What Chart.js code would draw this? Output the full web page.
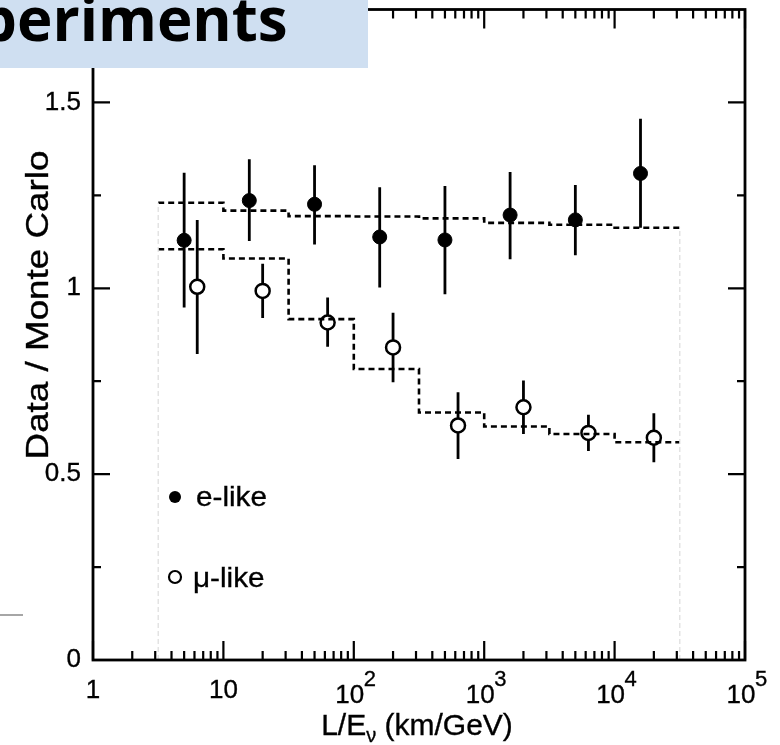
<!DOCTYPE html>
<html>
<head>
<meta charset="utf-8">
<script src="https://cdn.jsdelivr.net/npm/chart.js@4/dist/chart.umd.min.js"></script>
<style>
  html, body { margin: 0; padding: 0; background: #fff; }
  #plot { display: block; }
</style>
</head>
<body>
<canvas id="plot" width="780" height="745"></canvas>
<script>
// L/E bin edges (half-decade bins) for the Monte Carlo expectation
const binEdges = [3.162, 10, 31.62, 100, 316.2, 1000, 3162, 10000, 31623];
const eMC = [1.230, 1.209, 1.194, 1.193, 1.188, 1.176, 1.171, 1.163];
const muMC = [1.105, 1.080, 0.917, 0.783, 0.666, 0.628, 0.608, 0.586];

// e-like data points with error bars
const eX = [5.0, 15.8, 50, 158, 500, 1580, 5000, 15800];
const eY = [1.129, 1.236, 1.226, 1.138, 1.130, 1.197, 1.184, 1.309];
const eHi = [1.311, 1.347, 1.331, 1.272, 1.275, 1.313, 1.278, 1.456];
const eLo = [0.948, 1.127, 1.118, 1.002, 0.984, 1.078, 1.089, 1.163];

// mu-like data points with error bars
const muX = [6.3, 20, 63, 200, 630, 2000, 6300, 20000];
const muY = [1.004, 0.993, 0.908, 0.841, 0.631, 0.680, 0.611, 0.598];
const muHi = [1.184, 1.066, 0.975, 0.934, 0.720, 0.752, 0.660, 0.664];
const muLo = [0.823, 0.920, 0.843, 0.747, 0.541, 0.608, 0.562, 0.532];

// axis ticks
const xMajorTicks = [1, 10, 100, 1000, 10000, 100000];
const xTickBase = ["1", "10", "10", "10", "10", "10"];
const xTickExp = ["", "", "2", "3", "4", "5"];
const yMajorTicks = [0, 0.5, 1, 1.5];
const yTickLabels = ["0", "0.5", "1", "1.5"];
const yMinorTicks = [0.25, 0.75, 1.25];

const FONT = '"Liberation Sans", Arial, Helvetica, sans-serif';

function stepPoints(edges, levels) {
  const pts = [];
  levels.forEach((v, i) => {
    pts.push({ x: edges[i], y: v });
    pts.push({ x: edges[i + 1], y: v });
  });
  return pts;
}

function zip(xs, ys) {
  return xs.map((x, i) => ({ x: x, y: ys[i] }));
}

// text with a horizontal stretch and a light outline to thicken the strokes
function stretchText(ctx, str, x, y, sx, align) {
  ctx.save();
  ctx.translate(x, y);
  ctx.scale(sx, 1);
  ctx.textAlign = align;
  ctx.lineWidth = 0.35;
  ctx.strokeStyle = ctx.fillStyle;
  ctx.fillText(str, 0, 0);
  ctx.strokeText(str, 0, 0);
  ctx.restore();
}

// frame with inward ticks on all four sides, plus tick labels
const framePlugin = {
  id: "frame",
  afterDatasetsDraw(chart) {
    const ctx = chart.ctx;
    const xs = chart.scales.x;
    const ys = chart.scales.y;
    const a = chart.chartArea;
    ctx.save();
    ctx.strokeStyle = "#000";
    ctx.lineWidth = 2.8;
    ctx.strokeRect(a.left, a.top, a.right - a.left, a.bottom - a.top);

    ctx.lineWidth = 2.2;
    ctx.beginPath();
    // x ticks, major decades and minor 2..9
    for (let d = 0; d < xMajorTicks.length; d++) {
      const dec = xMajorTicks[d];
      const px = xs.getPixelForValue(dec);
      ctx.moveTo(px, a.bottom); ctx.lineTo(px, a.bottom - 19);
      ctx.moveTo(px, a.top); ctx.lineTo(px, a.top + 19);
      if (d < xMajorTicks.length - 1) {
        for (let m = 2; m <= 9; m++) {
          const pm = xs.getPixelForValue(dec * m);
          ctx.moveTo(pm, a.bottom); ctx.lineTo(pm, a.bottom - 9);
          ctx.moveTo(pm, a.top); ctx.lineTo(pm, a.top + 9);
        }
      }
    }
    yMajorTicks.forEach(v => {
      const py = ys.getPixelForValue(v);
      ctx.moveTo(a.left, py); ctx.lineTo(a.left + 17, py);
      ctx.moveTo(a.right, py); ctx.lineTo(a.right - 17, py);
    });
    yMinorTicks.forEach(v => {
      const py = ys.getPixelForValue(v);
      ctx.moveTo(a.left, py); ctx.lineTo(a.left + 8, py);
      ctx.moveTo(a.right, py); ctx.lineTo(a.right - 8, py);
    });
    ctx.stroke();

    // y tick labels
    ctx.fillStyle = "#000";
    ctx.font = "26px " + FONT;
    ctx.textBaseline = "middle";
    yMajorTicks.forEach((v, i) => {
      stretchText(ctx, yTickLabels[i], a.left - 12, ys.getPixelForValue(v), 1.0, "right");
    });

    // x tick labels, powers of ten with superscript exponent
    ctx.textBaseline = "alphabetic";
    xMajorTicks.forEach((v, i) => {
      const px = xs.getPixelForValue(v);
      ctx.font = "26px " + FONT;
      if (!xTickExp[i]) {
        stretchText(ctx, xTickBase[i], px, a.bottom + 38, 1.0, "center");
      } else {
        stretchText(ctx, xTickBase[i], px - 4, a.bottom + 43, 1.0, "center");
        ctx.font = "22px " + FONT;
        stretchText(ctx, xTickExp[i], px + 10, a.bottom + 26, 1.0, "left");
      }
    });

    // axis titles
    ctx.font = "30px " + FONT;
    const mainW = ctx.measureText("L/E").width;
    ctx.font = "20px " + FONT;
    const subW = ctx.measureText("\u03bd").width;
    ctx.font = "30px " + FONT;
    const tailW = ctx.measureText(" (km/GeV)").width;
    const tx = 417 - (mainW + subW + tailW) / 2;
    const ty = 735;
    stretchText(ctx, "L/E", tx, ty, 1.0, "left");
    ctx.font = "20px " + FONT;
    stretchText(ctx, "\u03bd", tx + mainW, ty + 7, 1.0, "left");
    ctx.font = "30px " + FONT;
    stretchText(ctx, " (km/GeV)", tx + mainW + subW, ty, 1.0, "left");

    ctx.save();
    ctx.translate(39, 305);
    ctx.rotate(-Math.PI / 2);
    ctx.font = "32px " + FONT;
    ctx.textBaseline = "middle";
    stretchText(ctx, "Data / Monte Carlo", 0, 0, 1.15, "center");
    ctx.restore();

    // legend inside the frame
    const lx = 175;
    ctx.beginPath();
    ctx.arc(lx, 497, 6, 0, Math.PI * 2);
    ctx.fillStyle = "#000";
    ctx.fill();
    ctx.beginPath();
    ctx.arc(lx, 577, 6, 0, Math.PI * 2);
    ctx.fillStyle = "#fff";
    ctx.fill();
    ctx.lineWidth = 2.2;
    ctx.stroke();
    ctx.fillStyle = "#000";
    ctx.font = "27px " + FONT;
    ctx.textBaseline = "alphabetic";
    stretchText(ctx, "e-like", 196, 506, 1.1, "left");
    stretchText(ctx, "\u03bc-like", 193, 587, 1.1, "left");
    ctx.restore();
  },
  afterDraw(chart) {
    // slide heading block in the top-left corner
    const ctx = chart.ctx;
    ctx.save();
    ctx.fillStyle = "#cfdff1";
    ctx.fillRect(0, 0, 368, 68);
    ctx.fillStyle = "#000";
    ctx.font = 'bold 60px "Open Sans", "Liberation Sans", sans-serif';
    ctx.textBaseline = "alphabetic";
    ctx.textAlign = "left";
    ctx.fillText("periments", -21, 41);
    // thin rule at the left edge
    ctx.strokeStyle = "#888";
    ctx.lineWidth = 1.5;
    ctx.beginPath();
    ctx.moveTo(0, 615);
    ctx.lineTo(23, 615);
    ctx.stroke();
    ctx.restore();
  }
};

// vertical error bars, drawn under the markers
const errorBarPlugin = {
  id: "errorBars",
  beforeDatasetsDraw(chart) {
    const ctx = chart.ctx;
    const xs = chart.scales.x;
    const ys = chart.scales.y;
    ctx.save();
    ctx.strokeStyle = "#000";
    ctx.lineWidth = 2.8;
    ctx.beginPath();
    eX.forEach((x, i) => {
      const px = xs.getPixelForValue(x);
      ctx.moveTo(px, ys.getPixelForValue(eHi[i]));
      ctx.lineTo(px, ys.getPixelForValue(eLo[i]));
    });
    muX.forEach((x, i) => {
      const px = xs.getPixelForValue(x);
      ctx.moveTo(px, ys.getPixelForValue(muHi[i]));
      ctx.lineTo(px, ys.getPixelForValue(muLo[i]));
    });
    ctx.stroke();
    ctx.restore();
  }
};

const lastBin = binEdges.length - 1;

new Chart(document.getElementById("plot").getContext("2d"), {
  type: "scatter",
  data: {
    datasets: [
      {
        label: "edge low",
        data: [{ x: binEdges[0], y: 0 }, { x: binEdges[0], y: eMC[0] }],
        showLine: true, pointRadius: 0,
        borderColor: "#dcdcdc", borderWidth: 1.2, borderDash: [5, 3]
      },
      {
        label: "edge high",
        data: [{ x: binEdges[lastBin], y: 0 }, { x: binEdges[lastBin], y: eMC[eMC.length - 1] }],
        showLine: true, pointRadius: 0,
        borderColor: "#dcdcdc", borderWidth: 1.2, borderDash: [5, 3]
      },
      {
        label: "e-like MC",
        data: stepPoints(binEdges, eMC),
        showLine: true, pointRadius: 0,
        borderColor: "#000", borderWidth: 2.6, borderDash: [6, 4]
      },
      {
        label: "mu-like MC",
        data: stepPoints(binEdges, muMC),
        showLine: true, pointRadius: 0,
        borderColor: "#000", borderWidth: 2.6, borderDash: [6, 4]
      },
      {
        label: "e-like",
        data: zip(eX, eY),
        pointRadius: 7,
        pointBackgroundColor: "#000",
        pointBorderColor: "#000",
        pointBorderWidth: 1
      },
      {
        label: "\u03bc-like",
        data: zip(muX, muY),
        pointRadius: 7,
        pointBackgroundColor: "#fff",
        pointBorderColor: "#000",
        pointBorderWidth: 2.5
      }
    ]
  },
  options: {
    responsive: false,
    animation: false,
    layout: { padding: { top: 7, right: 35, left: 0, bottom: 0 } },
    plugins: {
      legend: { display: false },
      tooltip: { enabled: false }
    },
    scales: {
      x: {
        type: "logarithmic",
        min: 1,
        max: 100000,
        grid: { display: false },
        border: { display: false },
        ticks: { display: false },
        afterFit: s => { s.height = 85; }
      },
      y: {
        type: "linear",
        min: 0,
        max: 1.75,
        grid: { display: false },
        border: { display: false },
        ticks: { display: false },
        afterFit: s => { s.width = 93; }
      }
    }
  },
  plugins: [errorBarPlugin, framePlugin]
});
</script>
</body>
</html>
